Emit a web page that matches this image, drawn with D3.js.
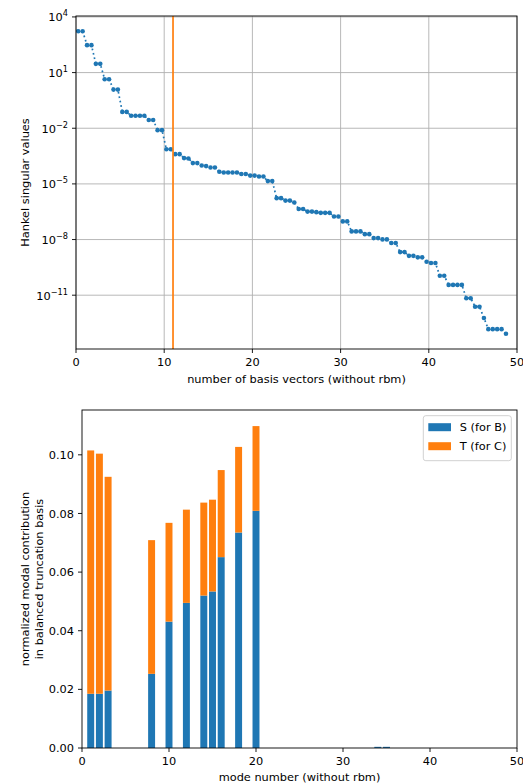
<!DOCTYPE html>
<html>
<head>
<meta charset="utf-8">
<script src="https://cdn.jsdelivr.net/npm/d3@7"></script>
<style>
  body { margin: 0; background: #fff; }
  text { font-family: "DejaVu Sans", sans-serif; fill: #000; }
</style>
</head>
<body>
<svg id="fig" width="523" height="784"></svg>
<script>
// ---- upper panel: Hankel singular values, two per basis-vector step ----
const hankelValues = [
  1.70e3, 1.70e3, 3.02e2, 3.02e2, 2.95e1, 2.95e1, 4.37, 4.37, 1.21, 1.21,
  7.6e-2, 7.6e-2, 4.7e-2, 4.7e-2, 4.7e-2, 4.7e-2, 2.8e-2, 2.8e-2, 7.9e-3, 7.9e-3,
  7.4e-4, 7.4e-4, 4.0e-4, 4.0e-4, 2.45e-4, 2.35e-4, 1.32e-4, 1.32e-4, 9.8e-5, 9.1e-5,
  7.6e-5, 7.6e-5, 4.5e-5, 4.1e-5, 4.1e-5, 4.1e-5, 4.1e-5, 3.4e-5, 3.4e-5, 2.8e-5,
  2.8e-5, 2.5e-5, 2.5e-5, 1.41e-5, 1.41e-5, 1.70e-6, 1.70e-6, 1.26e-6, 1.26e-6, 1.0e-6,
  4.4e-7, 4.4e-7, 3.2e-7, 3.2e-7, 3.0e-7, 2.75e-7, 2.75e-7, 2.75e-7, 1.74e-7, 1.74e-7,
  9.5e-8, 9.5e-8, 2.75e-8, 2.75e-8, 2.75e-8, 1.95e-8, 1.95e-8, 1.20e-8, 1.20e-8, 1.02e-8,
  1.02e-8, 6.5e-9, 6.5e-9, 2.1e-9, 2.1e-9, 1.32e-9, 1.32e-9, 1.10e-9, 1.10e-9, 6.3e-10,
  5.4e-10, 5.4e-10, 1.12e-10, 1.12e-10, 3.6e-11, 3.6e-11, 3.6e-11, 3.6e-11, 6.9e-12, 6.9e-12,
  2.4e-12, 2.4e-12, 5.9e-13, 1.48e-13, 1.48e-13, 1.48e-13, 1.48e-13, 8.3e-14
];
const truncationOrder = 11;
const xTicksTop = [0, 10, 20, 30, 40, 50];
const yTickExponents = [4, 1, -2, -5, -8, -11];

// ---- lower panel: modal contributions of the retained modes ----
const modeNumbers = [1, 2, 3, 8, 10, 12, 14, 15, 16, 18, 20, 34, 35];
const sForB = [0.0185, 0.0185, 0.0196, 0.0253, 0.0431, 0.0495, 0.0520, 0.0534, 0.0651, 0.0735, 0.0809, 0.0004, 0.0004];
const tForC = [0.0830, 0.0819, 0.0729, 0.0456, 0.0337, 0.0318, 0.0317, 0.0313, 0.0297, 0.0292, 0.0289, 0.0, 0.0];
const xTicksBottom = [0, 10, 20, 30, 40, 50];
const yTicksBottom = [0, 0.02, 0.04, 0.06, 0.08, 0.10];

const BLUE = "#1f77b4", ORANGE = "#ff7f0e", GRID = "#b0b0b0";
const FS = 11.35;          // 10 pt text
const TICK = 4, PAD = 4;   // tick length and label pad
const svg = d3.select("#fig");

function spines(g, x0, x1, y0, y1) {
  g.append("rect").attr("x", x0).attr("y", y0).attr("width", x1 - x0).attr("height", y1 - y0)
    .attr("fill", "none").attr("stroke", "#000").attr("stroke-width", 0.9);
}

// ================= upper panel =================
{
  const L = 76, R = 517, T = 16, B = 349;
  const x = d3.scaleLinear().domain([0, 50]).range([L, R]);
  const y = d3.scaleLog().domain([Math.pow(10, -13.9), Math.pow(10, 4.05)]).range([B, T]);
  const g = svg.append("g");

  // grid
  g.selectAll(".vg").data(xTicksTop).enter().append("line")
    .attr("x1", d => x(d)).attr("x2", d => x(d)).attr("y1", T).attr("y2", B)
    .attr("stroke", GRID).attr("stroke-width", 0.9);
  g.selectAll(".hg").data(yTickExponents).enter().append("line")
    .attr("x1", L).attr("x2", R).attr("y1", d => y(Math.pow(10, d))).attr("y2", d => y(Math.pow(10, d)))
    .attr("stroke", GRID).attr("stroke-width", 0.9);

  const pts = hankelValues.map((v, i) => ({ n: 0.25 + 0.5 * i, v }));
  const clipId = "clipTop";
  svg.append("clipPath").attr("id", clipId).append("rect")
    .attr("x", L).attr("y", T).attr("width", R - L).attr("height", B - T);
  const inner = g.append("g").attr("clip-path", `url(#${clipId})`);

  inner.append("path").datum(pts)
    .attr("d", d3.line().x(d => x(d.n)).y(d => y(d.v)))
    .attr("fill", "none").attr("stroke", BLUE).attr("stroke-width", 1.7)
    .attr("stroke-dasharray", "1.7,2.8");
  inner.selectAll("circle").data(pts).enter().append("circle")
    .attr("cx", d => x(d.n)).attr("cy", d => y(d.v)).attr("r", 2.3).attr("fill", BLUE);

  inner.append("line")
    .attr("x1", x(truncationOrder)).attr("x2", x(truncationOrder)).attr("y1", T).attr("y2", B)
    .attr("stroke", ORANGE).attr("stroke-width", 1.7);

  spines(g, L, R, T, B);

  // x ticks
  const xt = g.selectAll(".xt").data(xTicksTop).enter().append("g");
  xt.append("line").attr("x1", d => x(d)).attr("x2", d => x(d)).attr("y1", B).attr("y2", B + TICK)
    .attr("stroke", "#000").attr("stroke-width", 0.9);
  xt.append("text").attr("x", d => x(d)).attr("y", B + TICK + PAD + 8.6)
    .attr("text-anchor", "middle").attr("font-size", FS).text(d => d);

  // y ticks (powers of ten)
  const yt = g.selectAll(".yt").data(yTickExponents).enter().append("g");
  yt.append("line").attr("x1", L - TICK).attr("x2", L)
    .attr("y1", d => y(Math.pow(10, d))).attr("y2", d => y(Math.pow(10, d)))
    .attr("stroke", "#000").attr("stroke-width", 0.9);
  const lab = yt.append("text").attr("x", L - TICK - PAD).attr("y", d => y(Math.pow(10, d)) + 4.5)
    .attr("text-anchor", "end").attr("font-size", FS);
  lab.append("tspan").text("10");
  lab.append("tspan").attr("dy", -5).attr("font-size", 8.2)
    .text(d => (d < 0 ? "\u2212" + (-d) : String(d)));

  g.append("text").attr("x", (L + R) / 2).attr("y", 382.5).attr("text-anchor", "middle")
    .attr("font-size", FS).text("number of basis vectors (without rbm)");
  g.append("text").attr("transform", `translate(28.5,${(T + B) / 2}) rotate(-90)`)
    .attr("text-anchor", "middle").attr("font-size", FS).text("Hankel singular values");
}

// ================= lower panel =================
{
  const L = 82, R = 517, T = 410, B = 748;
  const totals = sForB.map((s, i) => s + tForC[i]);
  const x = d3.scaleLinear().domain([0, 50]).range([L, R]);
  const y = d3.scaleLinear().domain([0, d3.max(totals) * 1.05]).range([B, T]);
  const g = svg.append("g");
  const rows = modeNumbers.map((m, i) => ({ m, s: sForB[i], t: tForC[i] }));
  const bw = 0.8;

  g.selectAll(".bs").data(rows).enter().append("rect")
    .attr("x", d => x(d.m - bw / 2)).attr("width", d => x(d.m + bw / 2) - x(d.m - bw / 2))
    .attr("y", d => y(d.s)).attr("height", d => y(0) - y(d.s)).attr("fill", BLUE);
  g.selectAll(".bt").data(rows.filter(d => d.t > 0)).enter().append("rect")
    .attr("x", d => x(d.m - bw / 2)).attr("width", d => x(d.m + bw / 2) - x(d.m - bw / 2))
    .attr("y", d => y(d.s + d.t)).attr("height", d => y(d.s) - y(d.s + d.t)).attr("fill", ORANGE);

  spines(g, L, R, T, B);

  const xt = g.selectAll(".xt").data(xTicksBottom).enter().append("g");
  xt.append("line").attr("x1", d => x(d)).attr("x2", d => x(d)).attr("y1", B).attr("y2", B + TICK)
    .attr("stroke", "#000").attr("stroke-width", 0.9);
  xt.append("text").attr("x", d => x(d)).attr("y", B + TICK + PAD + 8.6)
    .attr("text-anchor", "middle").attr("font-size", FS).text(d => d);

  const yt = g.selectAll(".yt").data(yTicksBottom).enter().append("g");
  yt.append("line").attr("x1", L - TICK).attr("x2", L).attr("y1", d => y(d)).attr("y2", d => y(d))
    .attr("stroke", "#000").attr("stroke-width", 0.9);
  yt.append("text").attr("x", L - TICK - PAD).attr("y", d => y(d) + 4.1)
    .attr("text-anchor", "end").attr("font-size", FS).text(d => d3.format(".2f")(d));

  g.append("text").attr("x", (L + R) / 2).attr("y", 781).attr("text-anchor", "middle")
    .attr("font-size", FS).text("mode number (without rbm)");
  const yl = g.append("text").attr("transform", `translate(0,${(T + B) / 2}) rotate(-90)`)
    .attr("text-anchor", "middle").attr("font-size", FS);
  yl.append("tspan").attr("x", 0).attr("y", 29).text("normalized modal contribution");
  yl.append("tspan").attr("x", 0).attr("y", 43).text("in balanced truncation basis");

  // legend
  const lgW = 88, lgH = 45, lgX = R - 5.7 - lgW, lgY = T + 5.7;
  const lg = g.append("g");
  lg.append("rect").attr("x", lgX).attr("y", lgY).attr("width", lgW).attr("height", lgH)
    .attr("rx", 2.5).attr("fill", "#fff").attr("fill-opacity", 0.8)
    .attr("stroke", "#cccccc").attr("stroke-width", 0.9);
  const items = [["S (for B)", BLUE], ["T (for C)", ORANGE]];
  items.forEach(([name, col], i) => {
    const cy = lgY + 11.5 + i * 19;
    lg.append("rect").attr("x", lgX + 5).attr("y", cy - 4).attr("width", 22.7).attr("height", 8)
      .attr("fill", col);
    lg.append("text").attr("x", lgX + 36.5).attr("y", cy + 4.1).attr("font-size", FS).text(name);
  });
}
</script>
</body>
</html>
